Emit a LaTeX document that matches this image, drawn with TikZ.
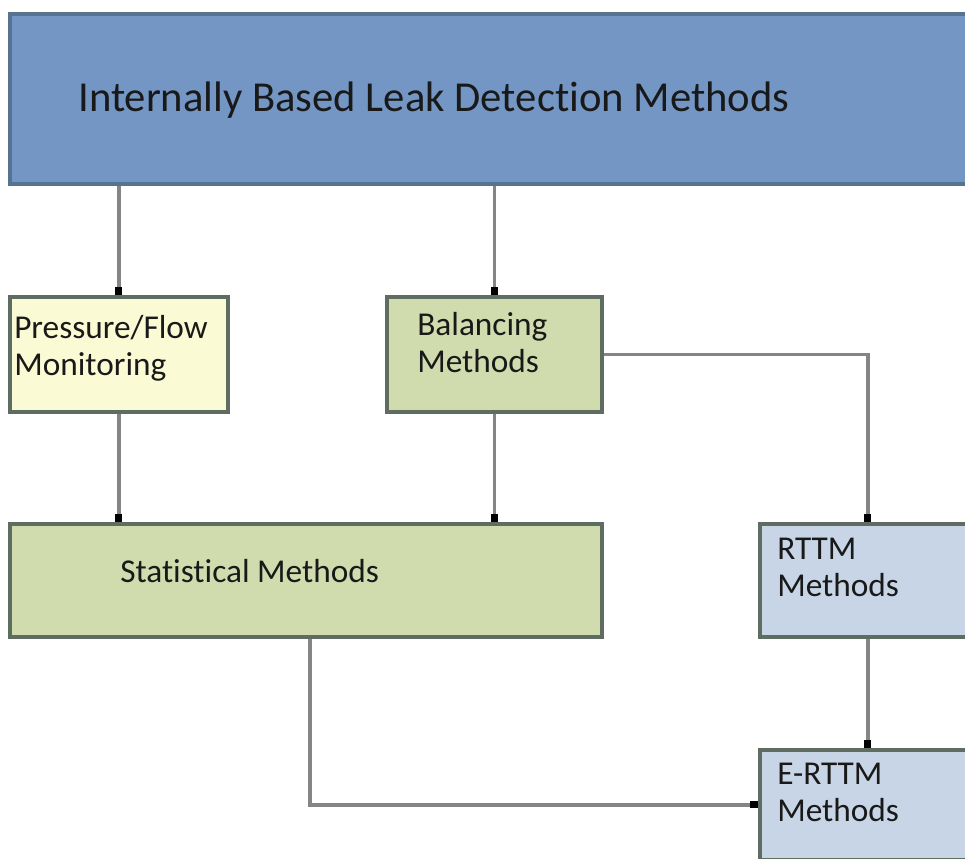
\documentclass[tikz,border=0pt]{standalone}
\usepackage{fontspec}
\setmainfont[Ligatures=CommonOff]{Carlito}
\usetikzlibrary{arrows.meta,calc,shadows}
\definecolor{barblue}{HTML}{7396C5}
\definecolor{baredge}{HTML}{56738F}
\definecolor{paleyellow}{HTML}{FAFAD4}
\definecolor{sagegreen}{HTML}{D0DCAE}
\definecolor{paleblue}{HTML}{C7D5E6}
\definecolor{boxedge}{HTML}{5F6C62}
\definecolor{linkgray}{HTML}{858585}
\tikzset{
  methodbox/.style={draw=boxedge, line width=2.8pt, rectangle, inner sep=0pt,
    drop shadow={shadow xshift=1pt, shadow yshift=-1.5pt, opacity=0.35}},
  boxlabel/.style={anchor=base west, inner sep=0pt, font=\fontsize{25}{30}\selectfont, text=black!90},
  link/.style={draw=linkgray, line width=2.8pt,
    -{Rectangle[length=6pt,width=5.2pt,color=black]}},
}
\begin{document}
\begin{tikzpicture}[x=0.75pt,y=-0.75pt]
\useasboundingbox (0,0) rectangle (965,858);
\fill[white] (0,0) rectangle (965,858);

% heading bar
\node[methodbox, draw=baredge, fill=barblue, minimum width=980*0.75pt, minimum height=170*0.75pt,
      anchor=north west] (top) at (8,12) {};
\node[anchor=base west, inner sep=0pt, font=\fontsize{32}{38}\selectfont, text=black!90]
  (toplabel) at (78,111) {Internally Based Leak Detection Methods};

% method boxes
\node[methodbox, fill=paleyellow, minimum width=218*0.75pt, minimum height=115*0.75pt,
      anchor=north west] (pf) at (8,295) {};
\node[boxlabel] (pflabel1) at (14,338) {Pressure/Flow};
\node[boxlabel] (pflabel2) at (14,375) {Monitoring};

\node[methodbox, fill=sagegreen, minimum width=215*0.75pt, minimum height=115*0.75pt,
      anchor=north west] (bal) at (385,295) {};
\node[boxlabel] (ballabel1) at (417,335) {Balancing};
\node[boxlabel] (ballabel2) at (417,372) {Methods};

\node[methodbox, fill=sagegreen, minimum width=592*0.75pt, minimum height=113*0.75pt,
      anchor=north west] (stat) at (8,522) {};
\node[boxlabel] (statlabel) at (120,582) {Statistical Methods};

\node[methodbox, fill=paleblue, minimum width=216*0.75pt, minimum height=113*0.75pt,
      anchor=north west] (rttm) at (758,522) {};
\node[boxlabel] (rttmlabel1) at (777,559) {RTTM};
\node[boxlabel] (rttmlabel2) at (777,596) {Methods};

\node[methodbox, fill=paleblue, minimum width=216*0.75pt, minimum height=110*0.75pt,
      anchor=north west] (ertm) at (758,748) {};
\node[boxlabel] (ertmlabel1) at (777,784) {E-RTTM};
\node[boxlabel] (ertmlabel2) at (777,821) {Methods};

% connectors
\draw[link] (pf.north |- top.south) -- (pf.north);
\draw[link] (bal.north |- top.south) -- (bal.north);
\draw[link] (pf.south) -- (pf.south |- stat.north);
\draw[link] (bal.south) -- (bal.south |- stat.north);
\draw[link] (bal.east) -| (rttm.north);
\draw[link] (rttm.south) -- (ertm.north);
\coordinate (statout) at ($(stat.south west)!0.507!(stat.south east)$);
\draw[link] (statout) |- (ertm.west);
\end{tikzpicture}
\end{document}
